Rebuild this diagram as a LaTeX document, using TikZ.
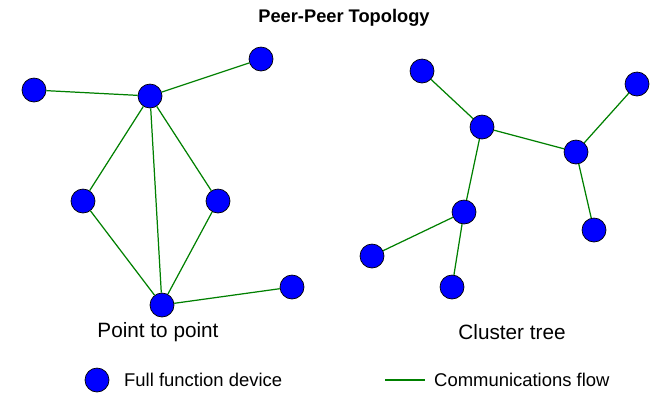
\documentclass[tikz,border=0pt]{standalone}
\usepackage{fontspec}
\setmainfont{Liberation Sans}
\begin{document}
\begin{tikzpicture}[x=0.02cm, y=-0.02cm,
    device/.style ={circle, draw=black, fill=blue, line width=0.4pt, minimum size=0.48cm, inner sep=0pt},
    flow/.style ={draw=green!50!black, line width=0.7pt}]
   \useasboundingbox (0,0) rectangle (652,393);
   \node (title) at (344,18) {\fontsize{10.4}{12}\selectfont\bfseries Peer-Peer Topology};
   % point to point
   \node[device] (A) at (34,90)   {};
   \node[device] (B) at (150,96)  {};
   \node[device] (C) at (261,59)  {};
   \node[device] (D) at (83,201)  {};
   \node[device] (E) at (218,201) {};
   \node[device] (F) at (162,305) {};
   \node[device] (G) at (292,287) {};
   \draw[flow] (A) to (B);
   \draw[flow] (B) to (C);
   \draw[flow] (B) to (D);
   \draw[flow] (B) to (E);
   \draw[flow] (B) to (F);
   \draw[flow] (D) to (F);
   \draw[flow] (E) to (F);
   \draw[flow] (F) to (G);
   % cluster tree
   \node[device] (H) at (422,71)  {};
   \node[device] (I) at (482,127) {};
   \node[device] (J) at (637,84)  {};
   \node[device] (K) at (576,152) {};
   \node[device] (L) at (464,212) {};
   \node[device] (M) at (594,230) {};
   \node[device] (N) at (372,256) {};
   \node[device] (O) at (452,287) {};
   \draw[flow] (H) to (I);
   \draw[flow] (I) to (K);
   \draw[flow] (K) to (J);
   \draw[flow] (K) to (M);
   \draw[flow] (I) to (L);
   \draw[flow] (L) to (N);
   \draw[flow] (L) to (O);
   \node (p2p) at (158,332) {\fontsize{11.8}{14}\selectfont Point to point};
   \node (tree) at (512,332) {\fontsize{11.8}{14}\selectfont Cluster tree};
   % legend
   \node[device] (key) at (97,380) {};
   \node[anchor=west] (keytext) at (118,380) {\fontsize{10.5}{12}\selectfont Full function device};
   \coordinate (fa) at (385,380);
   \coordinate (fb) at (425,380);
   \draw[flow] (fa) to (fb);
   \node[anchor=west] (flowtext) at (428,380) {\fontsize{10.5}{12}\selectfont Communications flow};
\end{tikzpicture}
\end{document}
